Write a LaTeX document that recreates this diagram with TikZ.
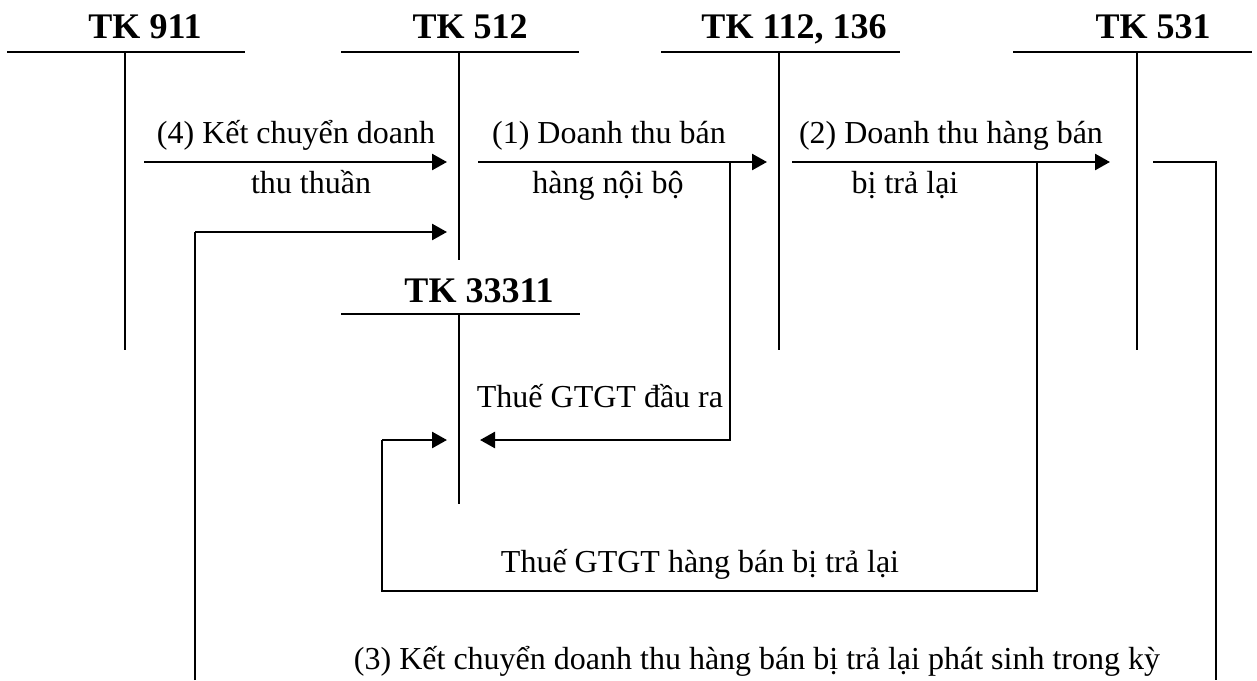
\documentclass[tikz,border=0pt]{standalone}
\usepackage{fontspec}
\setmainfont{Liberation Serif}
\usetikzlibrary{arrows.meta}
\begin{document}
\begin{tikzpicture}[x=0.5pt,y=-0.5pt,
  tacct/.style={line width=0.75pt},
  flow/.style={line width=1.3pt,-{Triangle[length=7.5pt,width=8pt]}},
  link/.style={line width=0.75pt},
  linkarrow/.style={line width=1.3pt,-{Triangle[length=7.5pt,width=8pt]}},
  title/.style={anchor=base,inner sep=0pt,font=\fontsize{18pt}{21pt}\selectfont\bfseries},
  lbl/.style={anchor=base,inner sep=0pt,font=\fontsize{16pt}{19pt}\selectfont}]
\useasboundingbox (0,0) rectangle (1257,680);

% T-account titles
\node[title] (t911) at (145,39) {TK 911};
\node[title] (t512) at (470,39) {TK 512};
\node[title] (t112) at (794,39) {TK 112, 136};
\node[title] (t531) at (1153,39) {TK 531};
\node[title] (t333) at (479,302) {TK 33311};

% T-accounts
\draw[tacct] (7,52) -- (245,52) (125,52) -- (125,350);
\draw[tacct] (341,52) -- (579,52) (459,52) -- (459,260);
\draw[tacct] (661,52) -- (900,52) (779,52) -- (779,350);
\draw[tacct] (1013,52) -- (1252,52) (1137,52) -- (1137,350);
\draw[tacct] (341,314) -- (580,314) (459,314) -- (459,504);

% connector points
\coordinate (a4s) at (144,162);  \coordinate (a4e) at (447,162);
\coordinate (a1s) at (478,162);  \coordinate (a1e) at (767,162);
\coordinate (a2s) at (792,162);  \coordinate (a2e) at (1110,162);
\coordinate (v1)  at (730,162);  \coordinate (v1e) at (480,440);
\coordinate (v2)  at (1037,162); \coordinate (v2b) at (382,591);
\coordinate (v2e) at (447,440);
\coordinate (c3a) at (1153,162); \coordinate (c3b) at (1216,680);
\coordinate (c3c) at (195,680);  \coordinate (c3e) at (447,232);

% flows
\draw[flow] (a4s) -- (a4e);
\draw[flow] (a1s) -- (a1e);
\draw[flow] (a2s) -- (a2e);
\draw[linkarrow] (v1) -- (v1 |- v1e) -- (v1e);
\draw[link] (v2) -- (v2 |- v2b) -- (v2b) -- (v2b |- v2e);
\draw[linkarrow] (v2b |- v2e) -- (v2e);
\draw[link] (c3a) -| (c3b);
\draw[link] (c3c) -- (c3c |- c3e);
\draw[linkarrow] (c3c |- c3e) -- (c3e);

% labels
\node[lbl] (l4a) at (296,143) {(4) Kết chuyển doanh};
\node[lbl] (l4b) at (311,193) {thu thuần};
\node[lbl] (l1a) at (609,143) {(1) Doanh thu bán};
\node[lbl] (l1b) at (608,193) {hàng nội bộ};
\node[lbl] (l2a) at (951,143) {(2) Doanh thu hàng bán};
\node[lbl] (l2b) at (905,193) {bị trả lại};
\node[lbl] (lv1) at (600,407) {Thuế GTGT đầu ra};
\node[lbl] (lv2) at (700,572) {Thuế GTGT hàng bán bị trả lại};
\node[lbl] (l3)  at (757,669) {(3) Kết chuyển doanh thu hàng bán bị trả lại phát sinh trong kỳ};
\end{tikzpicture}
\end{document}
